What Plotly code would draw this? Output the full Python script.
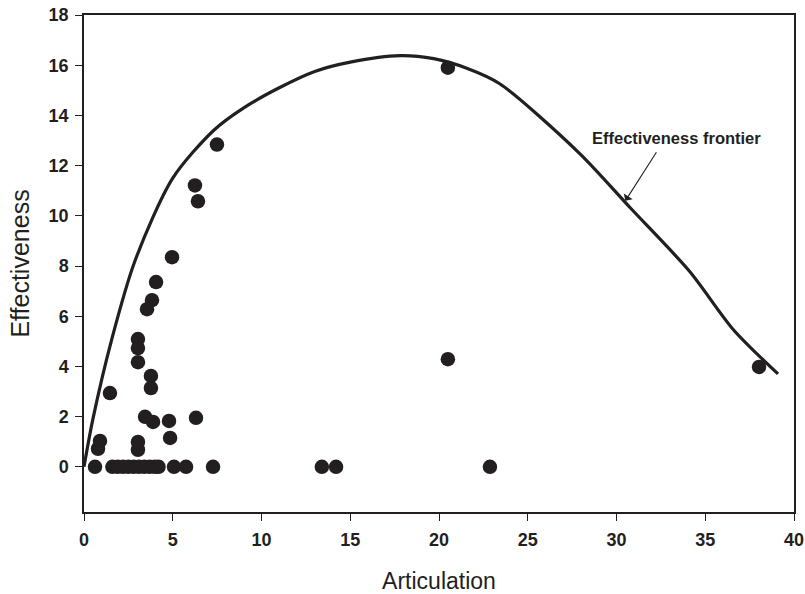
import plotly.graph_objects as go

# Scatter data (Articulation, Effectiveness)
articulation = [0.62, 0.79, 0.9, 1.46,
                1.6, 1.9, 2.2, 2.5, 2.8, 3.1, 3.4, 3.7, 4.0, 4.2,
                5.07, 5.75, 7.27, 13.4, 14.2, 22.87,
                3.44, 3.89, 4.79, 6.31, 3.04, 3.04, 4.85,
                4.06, 3.83, 3.55, 3.04, 3.04, 3.04, 3.77, 3.77,
                7.49, 6.25, 6.42, 4.96, 20.5, 20.5, 38.03]
effectiveness = [0, 0.72, 1.03, 2.94,
                 0, 0, 0, 0, 0, 0, 0, 0, 0, 0,
                 0, 0, 0, 0, 0, 0,
                 1.99, 1.79, 1.83, 1.95, 0.99, 0.68, 1.15,
                 7.36, 6.64, 6.28, 5.09, 4.73, 4.17, 3.62, 3.14,
                 12.84, 11.21, 10.58, 8.35, 15.9, 4.29, 3.98]

# Effectiveness frontier curve
frontier_x = [0, 0.5, 1.57, 2.87, 5.0, 7.3, 9.0, 11.0, 13.0, 15.0, 17.8, 19.7, 21.6, 23.4,
              27.9, 30.8, 34.1, 36.6, 39.1]
frontier_y = [0, 1.9, 5.1, 8.2, 11.5, 13.4, 14.3, 15.1, 15.75, 16.12, 16.38, 16.26, 15.87, 15.27,
              12.5, 10.3, 7.8, 5.45, 3.7]

x_ticks = [0, 5, 10, 15, 20, 25, 30, 35, 40]
y_ticks = [0, 2, 4, 6, 8, 10, 12, 14, 16, 18]

ink = "#231f20"
font_family = "Liberation Sans, Arial, sans-serif"

fig = go.Figure()
fig.add_trace(go.Scatter(x=frontier_x, y=frontier_y, mode="lines",
                         line=dict(color=ink, width=3.2, shape="spline", smoothing=0.8),
                         showlegend=False, hoverinfo="skip"))
fig.add_trace(go.Scatter(x=articulation, y=effectiveness, mode="markers",
                         marker=dict(color=ink, size=14.5, line=dict(width=0)),
                         showlegend=False))

fig.add_annotation(x=30.5, y=10.6, xref="x", yref="y", text="",
                   showarrow=True, ax=32, ay=-50, arrowhead=1, arrowsize=1.6,
                   arrowwidth=1.1, arrowcolor=ink, standoff=0)
fig.add_annotation(x=0.834, y=0.7525, xref="paper", yref="paper",
                   xanchor="center", yanchor="middle",
                   text="Effectiveness frontier", showarrow=False,
                   font=dict(family=font_family, size=16.5, color=ink, weight="bold"))

fig.update_layout(
    width=805, height=594,
    margin=dict(l=84, r=11, t=15, b=82),
    paper_bgcolor="white", plot_bgcolor="white",
    font=dict(family=font_family, color=ink),
)
fig.update_xaxes(range=[0, 40], tickvals=x_ticks, ticks="outside", ticklen=7,
                 tickwidth=1.3, tickcolor=ink, showline=True, linecolor=ink,
                 linewidth=1.5, mirror=True, showgrid=False, zeroline=False,
                 automargin=False, ticklabelstandoff=4,
                 tickfont=dict(size=18, weight="bold"),
                 title=dict(text="Articulation", font=dict(size=23), standoff=24))
fig.update_yaxes(range=[-1.8, 18], tickvals=y_ticks, ticks="outside", ticklen=7,
                 tickwidth=1.3, tickcolor=ink, showline=True, linecolor=ink,
                 linewidth=1.5, mirror=True, showgrid=False, zeroline=False,
                 automargin=False, ticklabelstandoff=3,
                 tickfont=dict(size=18, weight="bold"),
                 title=dict(text="Effectiveness", font=dict(size=25), standoff=12))

fig.write_html("out.html", config={"displayModeBar": False},
               post_script="document.body.style.margin='0';document.body.style.padding='0';")
